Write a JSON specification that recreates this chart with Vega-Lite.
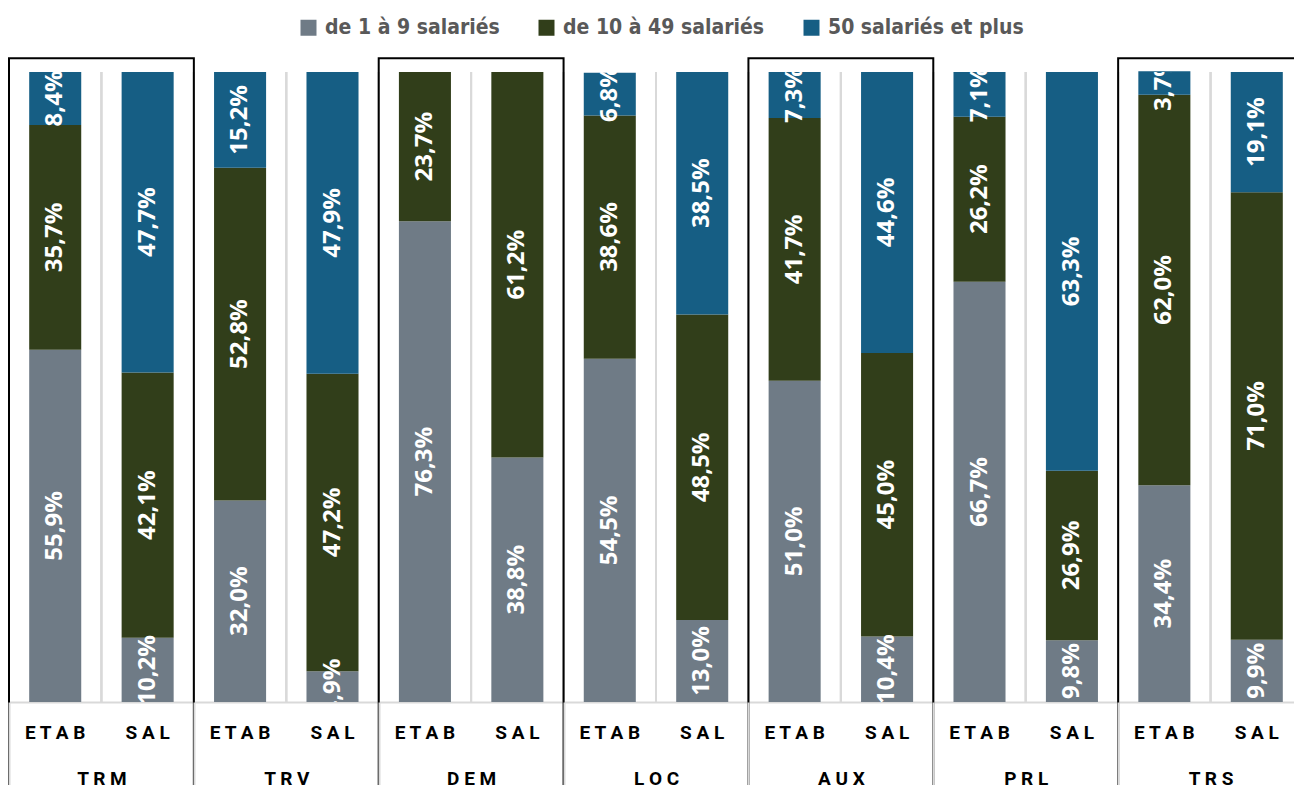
{
  "$schema": "https://vega.github.io/schema/vega-lite/v6.json",
  "width": 1285,
  "height": 630,
  "autosize": "none",
  "padding": {"left": 9, "top": 72, "right": 0, "bottom": 83},
  "background": "white",
  "config": {
    "view": {"stroke": null},
    "locale": {
      "number": {"decimal": ",", "thousands": " ", "grouping": [3], "currency": ["", " €"]}
    }
  },
  "datasets": {
    "parts": [
      {"colonne": "TRM|ETAB", "taille": "de 1 à 9 salariés", "ordre": 1, "part": 0.559},
      {"colonne": "TRM|ETAB", "taille": "de 10 à 49 salariés", "ordre": 2, "part": 0.357},
      {"colonne": "TRM|ETAB", "taille": "50 salariés et plus", "ordre": 3, "part": 0.084},
      {"colonne": "TRM|SAL", "taille": "de 1 à 9 salariés", "ordre": 1, "part": 0.102},
      {"colonne": "TRM|SAL", "taille": "de 10 à 49 salariés", "ordre": 2, "part": 0.421},
      {"colonne": "TRM|SAL", "taille": "50 salariés et plus", "ordre": 3, "part": 0.477},
      {"colonne": "TRV|ETAB", "taille": "de 1 à 9 salariés", "ordre": 1, "part": 0.320},
      {"colonne": "TRV|ETAB", "taille": "de 10 à 49 salariés", "ordre": 2, "part": 0.528},
      {"colonne": "TRV|ETAB", "taille": "50 salariés et plus", "ordre": 3, "part": 0.152},
      {"colonne": "TRV|SAL", "taille": "de 1 à 9 salariés", "ordre": 1, "part": 0.049},
      {"colonne": "TRV|SAL", "taille": "de 10 à 49 salariés", "ordre": 2, "part": 0.472},
      {"colonne": "TRV|SAL", "taille": "50 salariés et plus", "ordre": 3, "part": 0.479},
      {"colonne": "DEM|ETAB", "taille": "de 1 à 9 salariés", "ordre": 1, "part": 0.763},
      {"colonne": "DEM|ETAB", "taille": "de 10 à 49 salariés", "ordre": 2, "part": 0.237},
      {"colonne": "DEM|SAL", "taille": "de 1 à 9 salariés", "ordre": 1, "part": 0.388},
      {"colonne": "DEM|SAL", "taille": "de 10 à 49 salariés", "ordre": 2, "part": 0.612},
      {"colonne": "LOC|ETAB", "taille": "de 1 à 9 salariés", "ordre": 1, "part": 0.545},
      {"colonne": "LOC|ETAB", "taille": "de 10 à 49 salariés", "ordre": 2, "part": 0.386},
      {"colonne": "LOC|ETAB", "taille": "50 salariés et plus", "ordre": 3, "part": 0.068},
      {"colonne": "LOC|SAL", "taille": "de 1 à 9 salariés", "ordre": 1, "part": 0.130},
      {"colonne": "LOC|SAL", "taille": "de 10 à 49 salariés", "ordre": 2, "part": 0.485},
      {"colonne": "LOC|SAL", "taille": "50 salariés et plus", "ordre": 3, "part": 0.385},
      {"colonne": "AUX|ETAB", "taille": "de 1 à 9 salariés", "ordre": 1, "part": 0.510},
      {"colonne": "AUX|ETAB", "taille": "de 10 à 49 salariés", "ordre": 2, "part": 0.417},
      {"colonne": "AUX|ETAB", "taille": "50 salariés et plus", "ordre": 3, "part": 0.073},
      {"colonne": "AUX|SAL", "taille": "de 1 à 9 salariés", "ordre": 1, "part": 0.104},
      {"colonne": "AUX|SAL", "taille": "de 10 à 49 salariés", "ordre": 2, "part": 0.450},
      {"colonne": "AUX|SAL", "taille": "50 salariés et plus", "ordre": 3, "part": 0.446},
      {"colonne": "PRL|ETAB", "taille": "de 1 à 9 salariés", "ordre": 1, "part": 0.667},
      {"colonne": "PRL|ETAB", "taille": "de 10 à 49 salariés", "ordre": 2, "part": 0.262},
      {"colonne": "PRL|ETAB", "taille": "50 salariés et plus", "ordre": 3, "part": 0.071},
      {"colonne": "PRL|SAL", "taille": "de 1 à 9 salariés", "ordre": 1, "part": 0.098},
      {"colonne": "PRL|SAL", "taille": "de 10 à 49 salariés", "ordre": 2, "part": 0.269},
      {"colonne": "PRL|SAL", "taille": "50 salariés et plus", "ordre": 3, "part": 0.633},
      {"colonne": "TRS|ETAB", "taille": "de 1 à 9 salariés", "ordre": 1, "part": 0.344},
      {"colonne": "TRS|ETAB", "taille": "de 10 à 49 salariés", "ordre": 2, "part": 0.620},
      {"colonne": "TRS|ETAB", "taille": "50 salariés et plus", "ordre": 3, "part": 0.037},
      {"colonne": "TRS|SAL", "taille": "de 1 à 9 salariés", "ordre": 1, "part": 0.099},
      {"colonne": "TRS|SAL", "taille": "de 10 à 49 salariés", "ordre": 2, "part": 0.710},
      {"colonne": "TRS|SAL", "taille": "50 salariés et plus", "ordre": 3, "part": 0.191}
    ],
    "groupes": [
      {"groupe": "TRM"}, {"groupe": "TRV"}, {"groupe": "DEM"}, {"groupe": "LOC"},
      {"groupe": "AUX"}, {"groupe": "PRL"}, {"groupe": "TRS"}
    ]
  },
  "layer": [
    {
      "data": {"name": "parts"},
      "encoding": {
        "x": {
          "field": "colonne",
          "type": "nominal",
          "scale": {
            "domain": ["TRM|ETAB", "TRM|SAL", "TRV|ETAB", "TRV|SAL", "DEM|ETAB", "DEM|SAL", "LOC|ETAB", "LOC|SAL",
                       "AUX|ETAB", "AUX|SAL", "PRL|ETAB", "PRL|SAL", "TRS|ETAB", "TRS|SAL"],
            "range": [0, 1294],
            "paddingInner": 0,
            "paddingOuter": 0
          },
          "axis": {
            "orient": "bottom",
            "title": null,
            "domain": true,
            "domainColor": "#d9d9d9",
            "domainWidth": 2,
            "grid": false,
            "ticks": false,
            "labelAngle": 0,
            "labelPadding": 21,
            "labelFont": "Roboto",
            "labelFontSize": 19,
            "labelFontWeight": "bold",
            "labelColor": "black",
            "labelExpr": "datum.label ? join(split(split(datum.label, '|')[1], ''), ' ') : ''"
          }
        },
        "y": {
          "field": "part",
          "type": "quantitative",
          "stack": "zero",
          "scale": {"domain": [0, 1]},
          "axis": null
        },
        "order": {"field": "ordre", "type": "quantitative"}
      },
      "layer": [
        {
          "mark": {"type": "rule", "color": "#d9d9d9", "strokeWidth": 2},
          "encoding": {
            "x": {"field": "colonne", "type": "nominal", "bandPosition": 0},
            "y": null,
            "order": null
          }
        },
        {
          "mark": {"type": "bar", "width": {"band": 0.563}},
          "encoding": {
            "color": {
              "field": "taille",
              "type": "nominal",
              "sort": ["de 1 à 9 salariés", "de 10 à 49 salariés", "50 salariés et plus"],
              "scale": {
                "domain": ["de 1 à 9 salariés", "de 10 à 49 salariés", "50 salariés et plus"],
                "range": ["#6f7b86", "#313e1a", "#165e84"]
              },
              "legend": {
                "orient": "none",
                "legendX": 289,
                "legendY": -55,
                "direction": "horizontal",
                "title": null,
                "padding": 0,
                "symbolType": "square",
                "symbolSize": 256,
                "symbolStrokeWidth": 0,
                "labelFont": "'Liberation Sans Narrow', 'DejaVu Sans Condensed', 'Arial Narrow', Roboto, sans-serif",
                "labelFontSize": 21,
                "labelFontWeight": "bold",
                "labelColor": "#595959",
                "labelOffset": 6,
                "labelLimit": 400,
                "columnPadding": 36
              }
            }
          }
        },
        {
          "mark": {
            "type": "text",
            "angle": 270,
            "align": "center",
            "baseline": "middle",
            "font": "Open Sans",
            "fontSize": 24,
            "fontWeight": "bold",
            "color": "white",
            "clip": true
          },
          "encoding": {
            "y": {"field": "part", "type": "quantitative", "stack": "zero", "bandPosition": 0.5},
            "detail": {"field": "taille", "type": "nominal"},
            "text": {"field": "part", "type": "quantitative", "format": ".1%"}
          }
        }
      ]
    },
    {
      "data": {"name": "groupes"},
      "transform": [{"filter": "indexof(['TRM', 'DEM', 'AUX', 'TRS'], datum.groupe) >= 0"}],
      "mark": {"type": "rect", "fill": "transparent", "stroke": "black", "strokeWidth": 2},
      "encoding": {
        "x": {
          "field": "groupe",
          "type": "nominal",
          "scale": {
            "domain": ["TRM", "TRV", "DEM", "LOC", "AUX", "PRL", "TRS"],
            "range": [0, 1294],
            "paddingInner": 0,
            "paddingOuter": 0
          },
          "axis": {
            "orient": "bottom",
            "title": null,
            "domain": false,
            "grid": false,
            "ticks": true,
            "tickBand": "extent",
            "tickSize": 90,
            "tickColor": "#d9d9d9",
            "tickWidth": 2,
            "labelAngle": 0,
            "labelPadding": -23,
            "labelFont": "Roboto",
            "labelFontSize": 19,
            "labelFontWeight": "bold",
            "labelColor": "black",
            "labelExpr": "datum.label ? join(split(datum.label, ''), ' ') : ''"
          }
        },
        "y": {"datum": 1.022},
        "y2": {"datum": -0.3}
      }
    }
  ],
  "resolve": {"scale": {"x": "independent"}, "axis": {"x": "independent"}}
}
